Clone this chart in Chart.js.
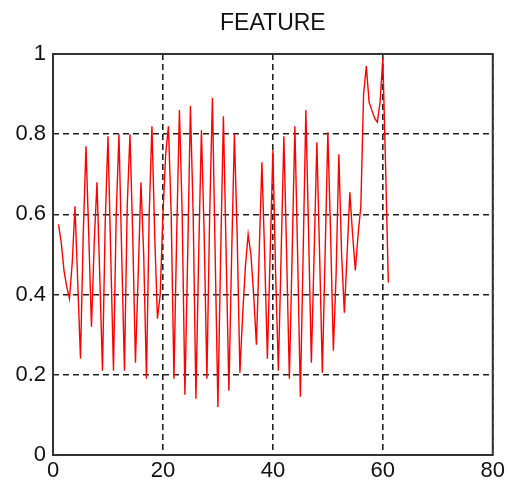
<!DOCTYPE html>
<html>
<head>
<meta charset="utf-8">
<script src="https://cdn.jsdelivr.net/npm/chart.js@4/dist/chart.umd.min.js"></script>
<style>
  html, body { margin: 0; padding: 0; background: #fff; }
  #wrap { width: 508px; height: 490px; }
</style>
</head>
<body>
<div id="wrap"><canvas id="chartFeature"></canvas></div>
<script>
// sampled every 0.5 starting at x = 1
const startX = 1;
const stepX = 0.5;
const featureValues = [
    0.575, 0.53, 0.46, 0.42, 0.39, 0.48, 0.62, 0.43, 0.24, 0.55,
    0.77, 0.55, 0.32, 0.53, 0.68, 0.45, 0.21, 0.58, 0.795, 0.50,
    0.21, 0.60, 0.80, 0.50, 0.21, 0.62, 0.80, 0.55, 0.23, 0.45,
    0.68, 0.50, 0.19, 0.60, 0.82, 0.55, 0.34, 0.40, 0.60, 0.75,
    0.82, 0.60, 0.19, 0.55, 0.86, 0.60, 0.15, 0.50, 0.87, 0.60,
    0.14, 0.50, 0.81, 0.55, 0.19, 0.60, 0.89, 0.50, 0.12, 0.50,
    0.845, 0.50, 0.16, 0.50, 0.80, 0.55, 0.205, 0.35, 0.47, 0.55,
    0.50, 0.40, 0.275, 0.50, 0.73, 0.50, 0.24, 0.50, 0.76, 0.45,
    0.21, 0.50, 0.795, 0.50, 0.19, 0.50, 0.82, 0.50, 0.145, 0.50,
    0.86, 0.55, 0.23, 0.50, 0.78, 0.50, 0.205, 0.50, 0.805, 0.55,
    0.26, 0.45, 0.75, 0.50, 0.355, 0.50, 0.655, 0.55, 0.46, 0.55,
    0.62, 0.90, 0.97, 0.88, 0.86, 0.84, 0.83, 0.88, 0.99, 0.72,
    0.43
];
const xTicks = [0, 20, 40, 60, 80];
const yTicks = [0, 0.2, 0.4, 0.6, 0.8, 1];
const tituloTexto = 'FEATURE';

const puntos = featureValues.map((v, i) => ({ x: startX + i * stepX, y: v }));

const familia = '"Liberation Sans", Arial, sans-serif';
const fuente = { family: familia, size: 22, weight: 'normal' };

// MATLAB style box around the plot + title centred over the axes
const marcoPlugin = {
    id: 'marco',
    afterDraw(chart) {
        const a = chart.chartArea;
        const c = chart.ctx;
        c.save();
        c.strokeStyle = '#333';
        c.lineWidth = 2;
        c.setLineDash([]);
        c.strokeRect(a.left, a.top, a.right - a.left, a.bottom - a.top);
        c.fillStyle = '#111';
        c.font = '23px ' + familia;
        c.textAlign = 'center';
        c.textBaseline = 'middle';
        c.fillText(tituloTexto, (a.left + a.right) / 2, 24);
        c.restore();
    }
};

new Chart(document.getElementById('chartFeature'), {
    type: 'line',
    data: {
        datasets: [{
            data: puntos,
            borderColor: '#ff0000',
            borderWidth: 1.4,
            pointRadius: 0,
            tension: 0,
            fill: false
        }]
    },
    options: {
        responsive: true,
        maintainAspectRatio: false,
        animation: false,
        layout: { padding: { left: 4, right: 13, top: 54, bottom: 0 } },
        plugins: {
            legend: { display: false },
            tooltip: { enabled: false },
            title: { display: false }
        },
        scales: {
            x: {
                type: 'linear',
                min: 0,
                max: 80,
                afterBuildTicks: s => { s.ticks = xTicks.map(v => ({ value: v })); },
                afterFit: s => { s.height = 35; },
                border: { display: false, dash: [6, 4] },
                grid: { color: '#222', lineWidth: 1.6, drawTicks: false },
                ticks: { color: '#111', font: fuente, padding: 3, maxRotation: 0 }
            },
            y: {
                type: 'linear',
                min: 0,
                max: 1,
                afterBuildTicks: s => { s.ticks = yTicks.map(v => ({ value: v })); },
                afterFit: s => { s.width = 49; },
                border: { display: false, dash: [6, 4] },
                grid: { color: '#222', lineWidth: 1.6, drawTicks: false },
                ticks: {
                    color: '#111',
                    font: fuente,
                    padding: 7,
                    callback: v => String(v)
                }
            }
        }
    },
    plugins: [marcoPlugin]
});
</script>
</body>
</html>
